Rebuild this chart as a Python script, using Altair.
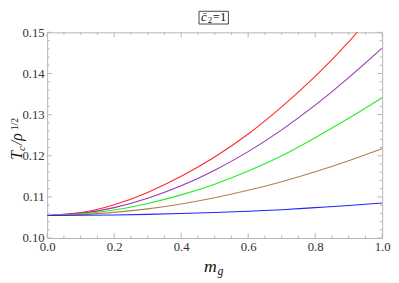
import altair as alt
import pandas as pd

# ---- data ----
x_vals = [0.0, 0.1, 0.2, 0.3, 0.4, 0.5, 0.6, 0.7, 0.8, 0.9, 1.0]
red_vals = [0.1055, 0.1062, 0.1081, 0.1111, 0.1150, 0.1197, 0.1253, 0.1319, 0.1393, 0.1477, 0.1570]
purple_vals = [0.1055, 0.1060, 0.1074, 0.1097, 0.1127, 0.1165, 0.1210, 0.1263, 0.1323, 0.1390, 0.1462]
green_vals = [0.1055, 0.10585, 0.1068, 0.1084, 0.1105, 0.1131, 0.1163, 0.1200, 0.1244, 0.1291, 0.1341]
brown_vals = [0.1055, 0.1057, 0.10625, 0.1071, 0.1083, 0.1098, 0.1116, 0.1137, 0.1161, 0.1188, 0.1217]
blue_vals = [0.1055, 0.10553, 0.10561, 0.10575, 0.10595, 0.1062, 0.1065, 0.1069, 0.1074, 0.1079, 0.1085]

series_names = ["red", "purple", "green", "brown", "blue"]
series_colors = ["#ff2a2a", "#9a35b0", "#22ee22", "#b08050", "#2424ff"]

x_major = [0.0, 0.2, 0.4, 0.6, 0.8, 1.0]
x_minor = [0.05, 0.1, 0.15, 0.25, 0.3, 0.35, 0.45, 0.5, 0.55, 0.65, 0.7, 0.75, 0.85, 0.9, 0.95]
y_major = [0.10, 0.11, 0.12, 0.13, 0.14, 0.15]
y_minor = [0.102, 0.104, 0.106, 0.108, 0.112, 0.114, 0.116, 0.118, 0.122, 0.124, 0.126, 0.128,
           0.132, 0.134, 0.136, 0.138, 0.142, 0.144, 0.146, 0.148]

title_parts = ["c\u0304", "2", "=1"]
xlabel_parts = ["m", "g"]
ylabel_parts = ["T", "c", "/\u03c1", "1/2"]

W, H = 342, 210
SERIF = "Liberation Serif"
FRAME = "#b4b4b4"

rows = []
for name, vals in zip(series_names, [red_vals, purple_vals, green_vals, brown_vals, blue_vals]):
    for xv, yv in zip(x_vals, vals):
        rows.append({"x": xv, "y": yv, "series": name})
df = pd.DataFrame(rows)

xscale = alt.Scale(domain=[0, 1], nice=False, zero=False)
yscale = alt.Scale(domain=[0.10, 0.15], nice=False, zero=False)
xaxis = alt.Axis(values=x_major, format=".1f", title=None, ticks=False, domain=False, grid=False,
                 labelFont=SERIF, labelFontSize=13, labelColor="#333333", labelPadding=3,
                 labelFlush=False, labelOverlap=False)
yaxis = alt.Axis(values=y_major, format=".2f", title=None, ticks=False, domain=False, grid=False,
                 labelFont=SERIF, labelFontSize=13, labelColor="#333333", labelPadding=3,
                 labelFlush=False, labelOverlap=False)

lines = alt.Chart(df).mark_line(clip=True, strokeWidth=1.1, interpolate="natural").encode(
    x=alt.X("x:Q", scale=xscale, axis=xaxis),
    y=alt.Y("y:Q", scale=yscale, axis=yaxis),
    color=alt.Color("series:N", scale=alt.Scale(domain=series_names, range=series_colors), legend=None),
)

def xticks(vals, length):
    d = pd.DataFrame({"x": vals})
    bottom = alt.Chart(d).mark_rule(color=FRAME, strokeWidth=1).encode(
        x=alt.X("x:Q", scale=xscale, axis=xaxis), y=alt.value(H), y2=alt.value(H - length))
    top = alt.Chart(d).mark_rule(color=FRAME, strokeWidth=1).encode(
        x=alt.X("x:Q", scale=xscale, axis=xaxis), y=alt.value(0), y2=alt.value(length))
    return [bottom, top]

def yticks(vals, length):
    d = pd.DataFrame({"y": vals})
    left = alt.Chart(d).mark_rule(color=FRAME, strokeWidth=1).encode(
        y=alt.Y("y:Q", scale=yscale, axis=yaxis), x=alt.value(0), x2=alt.value(length))
    right = alt.Chart(d).mark_rule(color=FRAME, strokeWidth=1).encode(
        y=alt.Y("y:Q", scale=yscale, axis=yaxis), x=alt.value(W), x2=alt.value(W - length))
    return [left, right]

def text_piece(s, x, y, size, italic=True, angle=0, color="#111111"):
    d = pd.DataFrame({"s": [s]})
    kw = dict(font=SERIF, fontSize=size, align="left", baseline="alphabetic", color=color)
    if italic:
        kw["fontStyle"] = "italic"
    if angle:
        kw["angle"] = angle
    return alt.Chart(d).mark_text(**kw).encode(text="s:N", x=alt.value(x), y=alt.value(y))

title_box = alt.Chart(pd.DataFrame({"a": [0]})).mark_rect(
    fill="white", stroke="#444444", strokeWidth=1).encode(
    x=alt.value(155), x2=alt.value(185), y=alt.value(-21.5), y2=alt.value(-8.5))

texts = [
    title_box,
    text_piece(title_parts[0], 157, -11.5, 13),
    text_piece(title_parts[1], 164, -9.5, 9, italic=False),
    text_piece(title_parts[2], 169, -11.5, 13, italic=False),
    text_piece(xlabel_parts[0], 160, 245, 18),
    text_piece(xlabel_parts[1], 174, 248, 12),
    text_piece(ylabel_parts[0], -26, 130, 16, angle=270),
    text_piece(ylabel_parts[1], -23, 121, 11, angle=270),
    text_piece(ylabel_parts[2], -26, 115, 16, angle=270),
    text_piece(ylabel_parts[3], -30, 100, 10, italic=False, angle=270),
]

layers = [lines] + xticks(x_major, 5) + xticks(x_minor, 2.5) + yticks(y_major, 5) + yticks(y_minor, 2.5) + texts

chart = alt.layer(*layers).properties(
    width=W, height=H,
    autosize=alt.AutoSizeParams(type="none"),
    padding={"left": 40, "top": 22, "right": 9, "bottom": 42},
).configure_view(stroke=FRAME, strokeWidth=1)

chart.save("out.html", embed_options={"renderer": "svg", "actions": False})
